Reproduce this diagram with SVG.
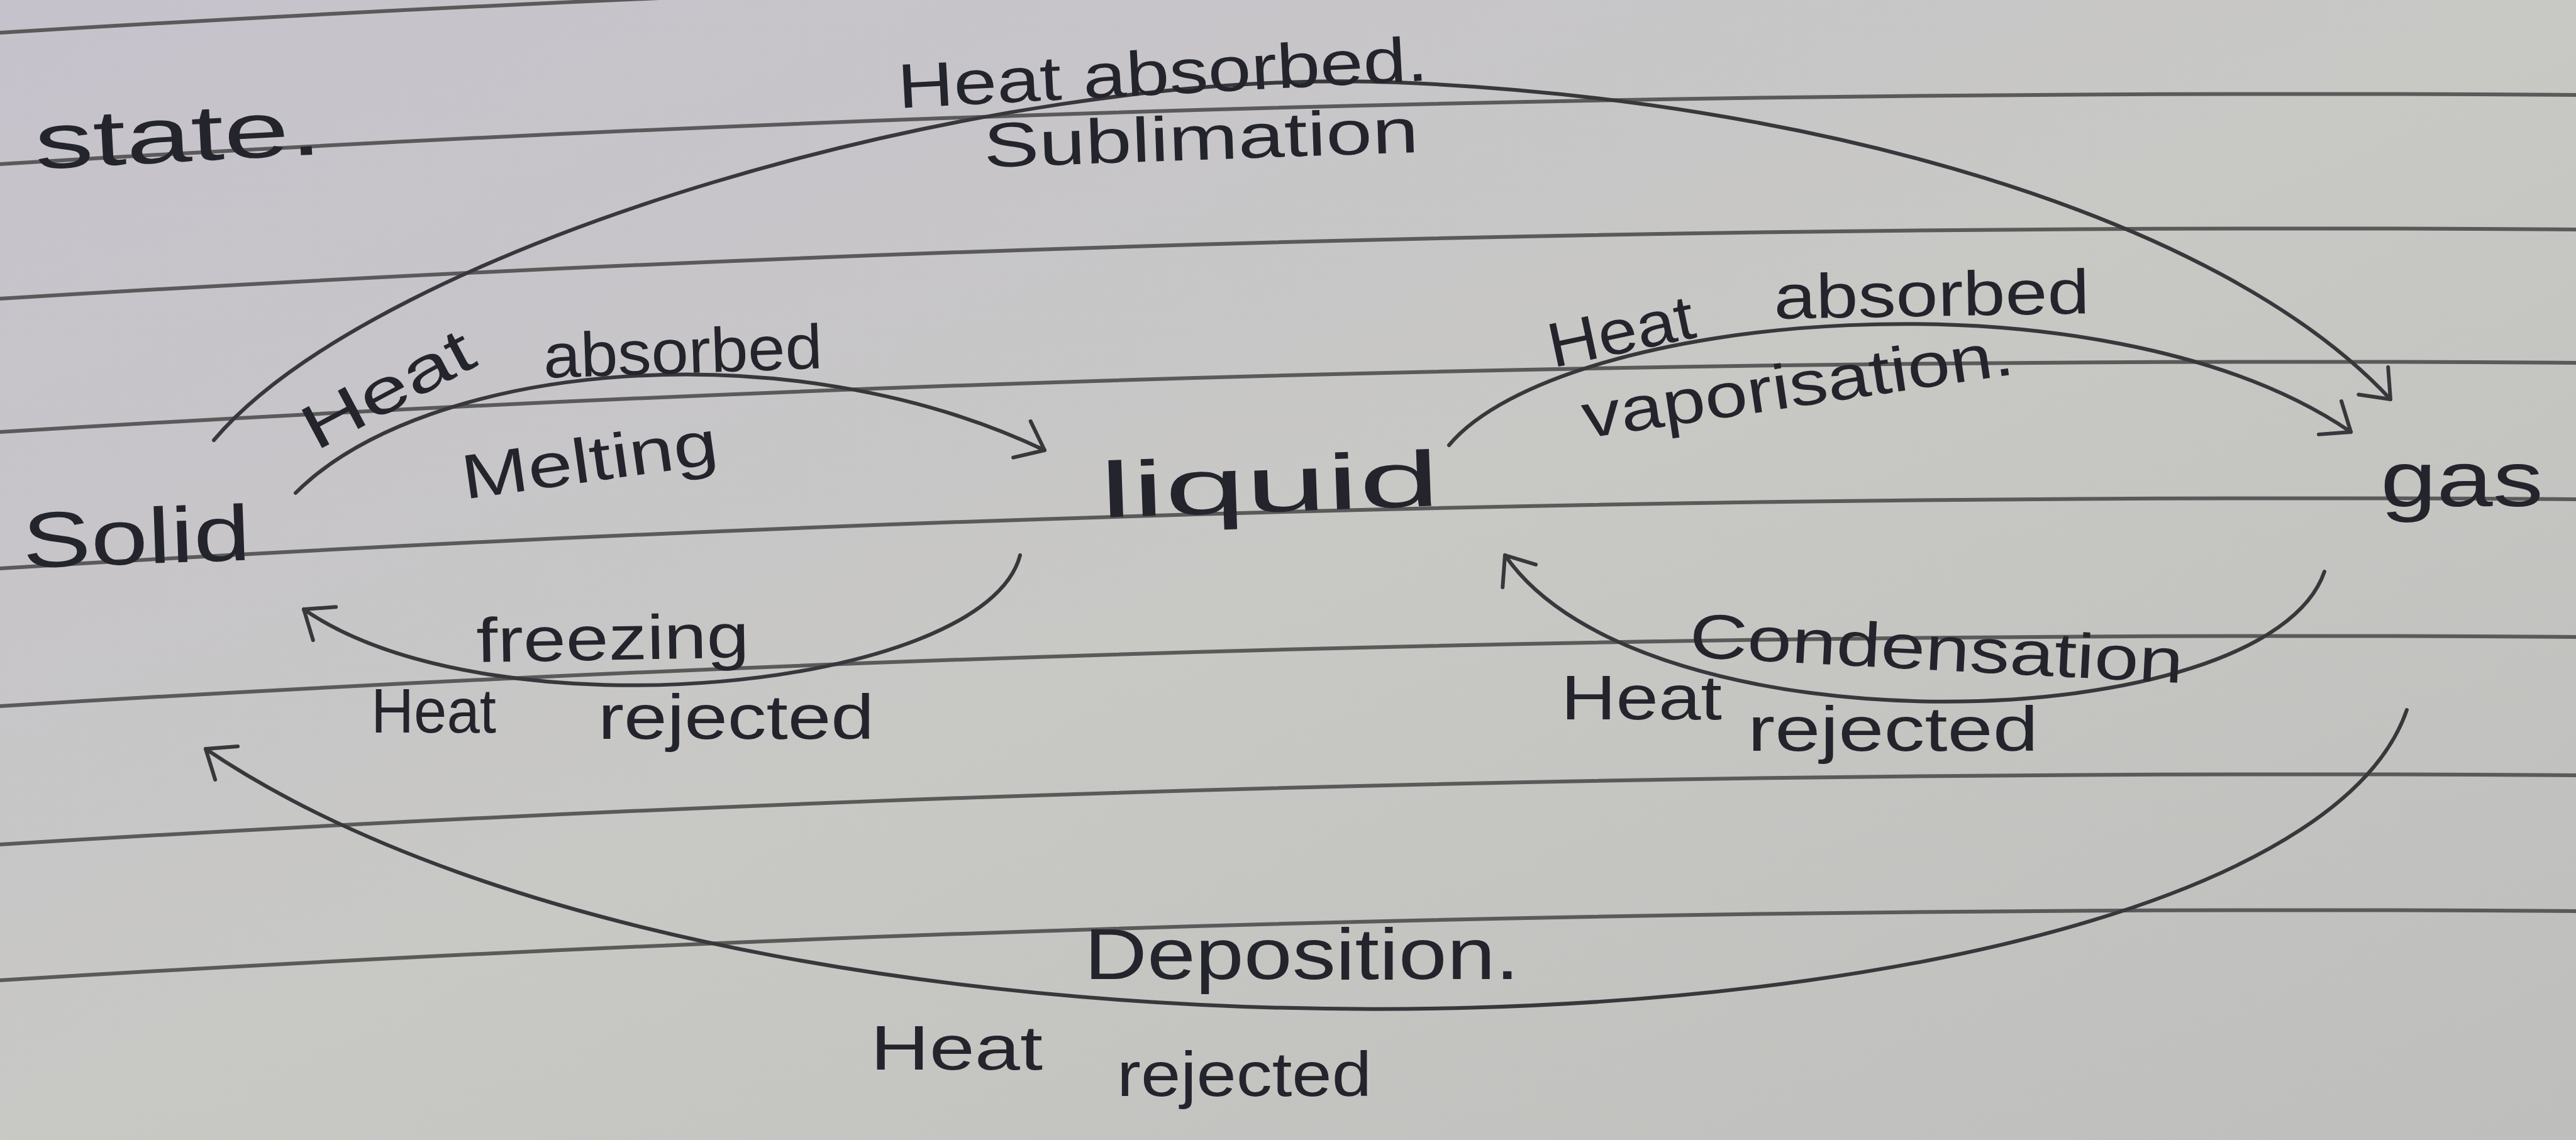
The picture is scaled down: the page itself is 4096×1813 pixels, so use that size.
<svg xmlns="http://www.w3.org/2000/svg" width="4096" height="1813" viewBox="0 0 4096 1813">
<defs>
<linearGradient id="paper" x1="0" y1="0" x2="1" y2="1">
<stop offset="0" stop-color="#c6c2cc"/>
<stop offset="0.5" stop-color="#c8c8c5"/>
<stop offset="1" stop-color="#bebfbc"/>
</linearGradient>
<marker id="arr" markerUnits="userSpaceOnUse" markerWidth="120" markerHeight="120" viewBox="-60 -60 120 120" refX="0" refY="0" orient="auto" overflow="visible">
<path d="M-40,-32 L0,0 L-40,32" fill="none" stroke="#38383c" stroke-width="6" stroke-linecap="round" stroke-linejoin="round"/>
</marker>
</defs>
<style>
.rule{fill:none;stroke:#5a5a5a;stroke-width:6}
.conn{fill:none;stroke:#38383c;stroke-width:6;stroke-linecap:round;marker-end:url(#arr)}
text{font-family:"Liberation Sans","DejaVu Sans",sans-serif;fill:#24242c}
.node{font-size:125px}
.lab{font-size:100px}
</style>
<rect x="0" y="0" width="4096" height="1813" fill="url(#paper)"/>
<g id="ruled-lines">
<path class="rule" d="M0,52 Q2037,-73 4096,-58"/>
<path class="rule" d="M0,261 Q2037,136 4096,151"/>
<path class="rule" d="M0,475 Q2037,350 4096,365"/>
<path class="rule" d="M0,687 Q2037,562 4096,577"/>
<path class="rule" d="M0,904 Q2037,779 4096,794"/>
<path class="rule" d="M0,1123 Q2037,998 4096,1013"/>
<path class="rule" d="M0,1343 Q2037,1218 4096,1233"/>
<path class="rule" d="M0,1559 Q2037,1434 4096,1449"/>
</g>
<g id="connectors">
<path id="c-sublimation" class="conn" d="M340,700 C601,392 1567,105 2220,131 C2873,157 3527,340 3801,635"/>
<path id="c-melting" class="conn" d="M470,784 C679,575 1254,522 1661,716"/>
<path id="c-freezing" class="conn" d="M1622,883 C1567,1097 784,1176 483,969"/>
<path id="c-vaporisation" class="conn" d="M2304,708 C2482,496 3344,418 3738,687"/>
<path id="c-condensation" class="conn" d="M3696,909 C3605,1176 2612,1202 2393,883"/>
<path id="c-deposition" class="conn" d="M3827,1129 C3631,1698 1228,1802 327,1191"/>
</g>
<g id="heading">
<text class="node" x="57" y="269" textLength="457" lengthAdjust="spacingAndGlyphs" transform="rotate(-3 57 269)">state.</text>
</g>
<g id="node-solid">
<text class="node" x="37" y="903" textLength="363" lengthAdjust="spacingAndGlyphs" transform="rotate(-2 37 903)">Solid</text>
</g>
<g id="node-liquid">
<text class="node" x="1750" y="823" textLength="541" lengthAdjust="spacingAndGlyphs" transform="rotate(-2 1750 823)">liquid</text>
</g>
<g id="node-gas">
<text class="node" x="3785" y="805" textLength="259" lengthAdjust="spacingAndGlyphs">gas</text>
</g>
<g id="label-sublimation">
<text class="lab" x="1429" y="172" textLength="844" lengthAdjust="spacingAndGlyphs" transform="rotate(-3 1429 172)">Heat absorbed.</text>
<text class="lab" x="1565" y="266" textLength="692" lengthAdjust="spacingAndGlyphs" transform="rotate(-2 1565 266)">Sublimation</text>
</g>
<g id="label-melting">
<text class="lab" x="502" y="718" textLength="295" lengthAdjust="spacingAndGlyphs" transform="rotate(-28 502 718)">Heat</text>
<text class="lab" x="865" y="601" textLength="444" lengthAdjust="spacingAndGlyphs" transform="rotate(-2 865 601)">absorbed</text>
<text class="lab" x="739" y="794" textLength="410" lengthAdjust="spacingAndGlyphs" transform="rotate(-8 739 794)">Melting</text>
</g>
<g id="label-freezing">
<text class="lab" x="758" y="1053" textLength="434" lengthAdjust="spacingAndGlyphs" transform="rotate(-1 758 1053)">freezing</text>
<text class="lab" x="590" y="1165" textLength="199" lengthAdjust="spacingAndGlyphs">Heat</text>
<text class="lab" x="951" y="1175" textLength="439" lengthAdjust="spacingAndGlyphs">rejected</text>
</g>
<g id="label-vaporisation">
<text class="lab" x="2469" y="585" textLength="236" lengthAdjust="spacingAndGlyphs" transform="rotate(-12 2469 585)">Heat</text>
<text class="lab" x="2821" y="507" textLength="502" lengthAdjust="spacingAndGlyphs" transform="rotate(-1 2821 507)">absorbed</text>
<text class="lab" x="2521" y="697" textLength="692" lengthAdjust="spacingAndGlyphs" transform="rotate(-8.5 2521 697)">vaporisation.</text>
</g>
<g id="label-condensation">
<text class="lab" x="2685" y="1045" textLength="786" lengthAdjust="spacingAndGlyphs" transform="rotate(3 2685 1045)">Condensation</text>
<text class="lab" x="2482" y="1144" textLength="256" lengthAdjust="spacingAndGlyphs">Heat</text>
<text class="lab" x="2779" y="1194" textLength="462" lengthAdjust="spacingAndGlyphs">rejected</text>
</g>
<g id="label-deposition">
<text class="lab" x="1724" y="1557" textLength="692" lengthAdjust="spacingAndGlyphs" style="font-size:115px">Deposition.</text>
<text class="lab" x="1384" y="1701" textLength="274" lengthAdjust="spacingAndGlyphs">Heat</text>
<text class="lab" x="1776" y="1743" textLength="405" lengthAdjust="spacingAndGlyphs">rejected</text>
</g>
</svg>
